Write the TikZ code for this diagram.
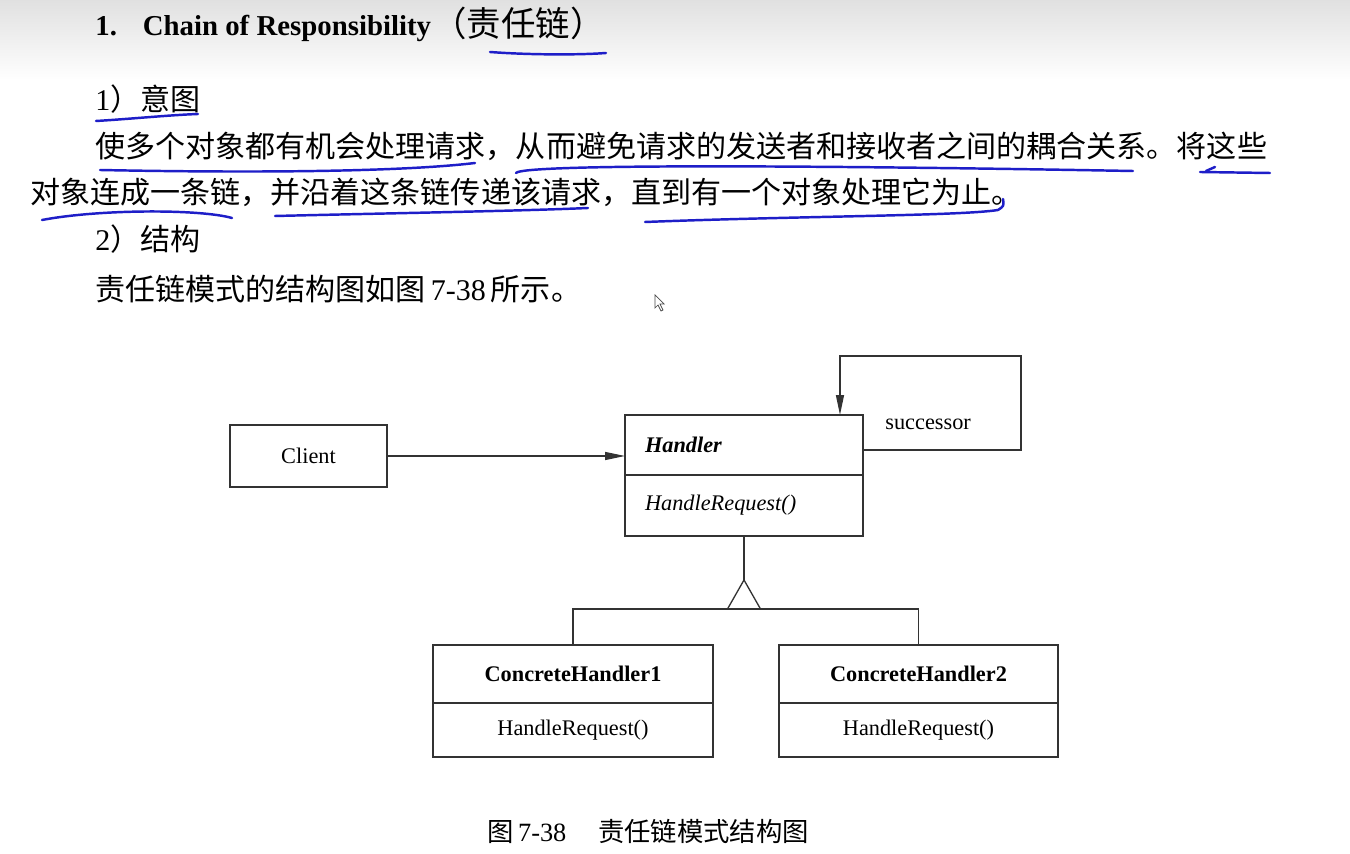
\documentclass[tikz,border=0pt]{standalone}
\usepackage{fontspec}
\setmainfont{Liberation Serif}
\newfontfamily\cjk{Noto Sans CJK SC}
\usetikzlibrary{arrows.meta,positioning}
\definecolor{inkblue}{RGB}{30,30,200}

\begin{document}
\begin{tikzpicture}[x=0.02cm,y=-0.02cm,
    body/.style={anchor=base west,inner sep=0pt,font=\fontsize{17.1pt}{20pt}\selectfont},
    ink/.style={inkblue,line width=1.4pt,line cap=round},
    umlline/.style={black!80,line width=0.75pt},
    umlarrow/.style={umlline,-{Triangle[length=0.4cm,width=0.16cm]}},
    classbox/.style={draw=black!80,line width=0.75pt,outer sep=0pt,inner sep=0pt,
        font=\fontsize{12.7pt}{15pt}\selectfont}]

    % page and header band
    \useasboundingbox[fill=white] (0,0) rectangle (1350,854);
    \shade[top color=black!12,bottom color=white] (0,0) rectangle (1350,80);

    % Title
    \node[anchor=base west,inner sep=0pt,font=\fontsize{16.4pt}{19pt}\selectfont\bfseries]
        (title) at (95,36) {1.\hspace{0.9em}Chain of Responsibility};
    \node[anchor=base west,inner sep=0pt,font=\cjk\fontsize{19.6pt}{22pt}\selectfont]
        (titlecn) at (432,37) {（责任链）};

    % Text
    \node[body] (intent) at (95,111) {1{\cjk ）意图}};
    \node[body] (line1) at (95,158) {\cjk 使多个对象都有机会处理请求，从而避免请求的发送者和接收者之间的耦合关系。将这些};
    \node[body] (line2) at (30,204) {\cjk 对象连成一条链，并沿着这条链传递该请求，直到有一个对象处理它为止。};
    \node[body] (struct) at (95,251) {2{\cjk ）结构}};
    \node[body] (refer) at (95,301) {{\cjk 责任链模式的结构图如图}\,7-38\,{\cjk 所示。}};

    % Handwritten underlines
    \draw[ink] (490,52) .. controls (530,55) and (580,55) .. (606,53);
    \draw[ink] (96,121) .. controls (130,119) and (170,115) .. (198,114);
    \draw[ink] (100,170) .. controls (250,173) and (400,172) .. (475,163);
    \draw[ink] (516,173) .. controls (522,164) and (800,165) .. (1133,171);
    \draw[ink] (1200,172) -- (1270,173);
    \draw[ink] (1215,167) -- (1206,171);
    \draw[ink] (42,220) .. controls (100,209) and (200,209) .. (232,218);
    \draw[ink] (275,216) .. controls (400,213) and (520,211) .. (588,208);
    \draw[ink] (645,222) .. controls (800,216) and (960,216) .. (998,210) .. controls (1004,206) .. (1003,199);

    % Mouse pointer
    \draw[black!70,line width=0.4pt,fill=white] (655,295) -- (655,308) -- (658,305) -- (661,311)
        -- (663,310) -- (660,304) -- (664,304) -- cycle;

    % Classes
    \node[classbox,minimum width=3.14cm,minimum height=1.24cm] (client) at (308.5,456) {Client};
    \node[classbox,minimum width=4.76cm,minimum height=1.2cm,text width=3.96cm,align=left]
        (handhead) at (744,445) {\textbf{\textit{Handler}}};
    \node[classbox,minimum width=4.76cm,minimum height=1.22cm,text width=3.96cm,align=left,
        below=0pt of handhead] (handbody) {\textit{HandleRequest()}};
    \node[classbox,minimum width=5.6cm,minimum height=1.16cm] (conc1) at (573,674) {\textbf{ConcreteHandler1}};
    \node[classbox,minimum width=5.6cm,minimum height=1.08cm,below=0pt of conc1] (conc1ops) {HandleRequest()};
    \node[classbox,minimum width=5.58cm,minimum height=1.16cm] (conc2) at (918.5,674) {\textbf{ConcreteHandler2}};
    \node[classbox,minimum width=5.58cm,minimum height=1.08cm,below=0pt of conc2] (conc2ops) {HandleRequest()};

    % Associations
    \draw[umlarrow] (client) -- (client -| handhead.west);
    \coordinate (loop) at (1021,356);
    \draw[umlarrow] ([yshift=-0.1cm]handhead.east) -| (loop) -| ([xshift=1.92cm]handhead.north);
    \node[anchor=west,inner sep=0pt,font=\fontsize{12.7pt}{15pt}\selectfont] (succ) at (885,424) {successor};

    % Inheritance
    \coordinate (apex) at ([yshift=-0.88cm]handbody.south);
    \coordinate (bus) at ([yshift=-0.58cm]apex);
    \draw[umlline] (handbody.south) -- (apex);
    \draw[umlline,fill=white] (apex) -- ++(-16.5,29) -- ++(33,0) -- cycle;
    \draw[umlline] (conc1.north) |- (bus) -| (conc2.north);

    % Caption
    \node[anchor=base west,inner sep=0pt,font=\fontsize{15pt}{18pt}\selectfont]
        (caption) at (487,842) {{\cjk 图}\,7-38\hspace{1.2em}{\cjk 责任链模式结构图}};
\end{tikzpicture}
\end{document}
